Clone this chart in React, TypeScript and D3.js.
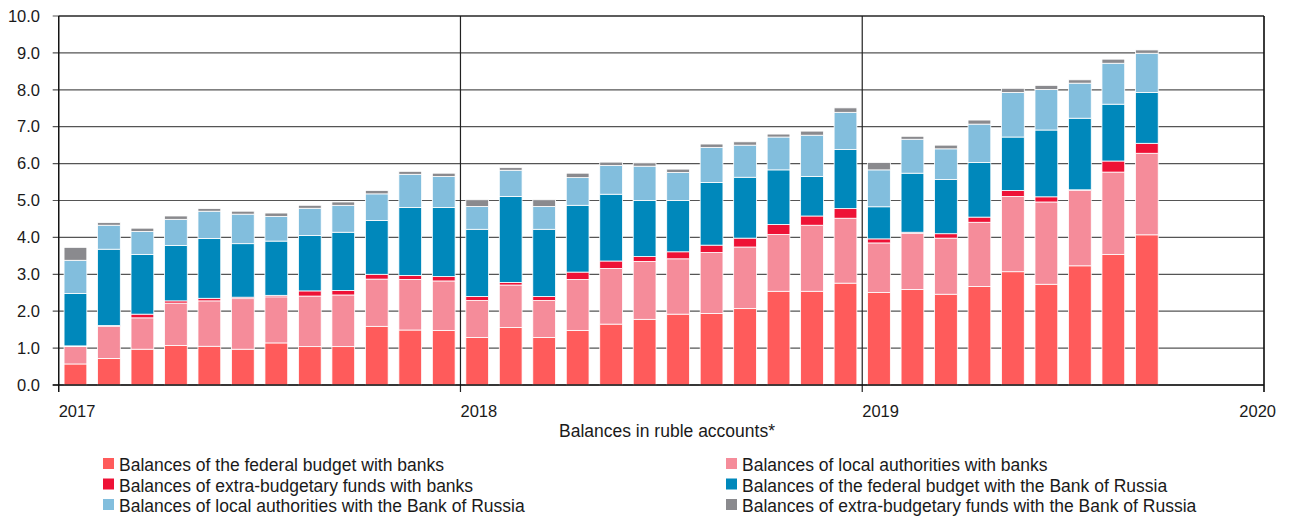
import React from "react";
import * as d3 from "d3";

// months Jan 2017 .. Sep 2019 (33 bars)
const months = d3.timeMonths(new Date(2017, 0, 1), new Date(2019, 9, 1));
const allMonths = d3.timeMonths(new Date(2017, 0, 1), new Date(2020, 0, 1));

const fedBanks = [0.57, 0.72, 0.97, 1.07, 1.05, 0.97, 1.14, 1.04, 1.04, 1.59, 1.49, 1.48,
  1.29, 1.56, 1.29, 1.48, 1.65, 1.78, 1.92, 1.94, 2.07, 2.54, 2.54, 2.76,
  2.51, 2.59, 2.46, 2.67, 3.07, 2.73, 3.23, 3.54, 4.07];
const localBanks = [0.47, 0.87, 0.85, 1.15, 1.23, 1.37, 1.25, 1.37, 1.4, 1.28, 1.37, 1.34,
  1.0, 1.15, 1.0, 1.38, 1.51, 1.57, 1.5, 1.65, 1.67, 1.54, 1.79, 1.76,
  1.34, 1.52, 1.52, 1.74, 2.04, 2.23, 2.04, 2.23, 2.21];
const extraBanks = [0.02, 0.02, 0.1, 0.06, 0.07, 0.04, 0.04, 0.14, 0.12, 0.13, 0.11, 0.12,
  0.11, 0.07, 0.11, 0.2, 0.2, 0.13, 0.19, 0.2, 0.24, 0.27, 0.25, 0.26,
  0.11, 0.03, 0.12, 0.14, 0.16, 0.14, 0.02, 0.3, 0.27];
const fedCbr = [1.42, 2.07, 1.62, 1.5, 1.62, 1.45, 1.47, 1.5, 1.58, 1.46, 1.84, 1.87,
  1.82, 2.33, 1.82, 1.81, 1.81, 1.52, 1.39, 1.7, 1.65, 1.48, 1.07, 1.6,
  0.87, 1.6, 1.47, 1.48, 1.45, 1.81, 1.94, 1.54, 1.38];
const localCbr = [0.9, 0.65, 0.62, 0.71, 0.74, 0.8, 0.67, 0.74, 0.73, 0.72, 0.9, 0.84,
  0.62, 0.71, 0.62, 0.75, 0.78, 0.93, 0.76, 0.95, 0.87, 0.89, 1.12, 1.01,
  1.0, 0.92, 0.83, 1.04, 1.21, 1.1, 0.95, 1.11, 1.06];
const extraCbr = [0.35, 0.07, 0.09, 0.09, 0.07, 0.08, 0.09, 0.08, 0.09, 0.09, 0.08, 0.09,
  0.18, 0.07, 0.18, 0.12, 0.09, 0.09, 0.09, 0.09, 0.09, 0.08, 0.11, 0.12,
  0.2, 0.08, 0.1, 0.11, 0.11, 0.11, 0.09, 0.11, 0.09];

const seriesKeys = ["fedBanks", "localBanks", "extraBanks", "fedCbr", "localCbr", "extraCbr"];
const seriesNames = [
  "Balances of the federal budget with banks",
  "Balances of local authorities with banks",
  "Balances of extra-budgetary funds with banks",
  "Balances of the federal budget with the Bank of Russia",
  "Balances of local authorities with the Bank of Russia",
  "Balances of extra-budgetary funds with the Bank of Russia",
];
const colors = ["#ff5b5b", "#f58c9a", "#ee1236", "#0088bb", "#82bedd", "#8a8a8e"];
const yTicks = [0, 1, 2, 3, 4, 5, 6, 7, 8, 9, 10];
const yearTicks = [2017, 2018, 2019, 2020];
const xTitle = "Balances in ruble accounts*";

const W = 1292;
const H = 520;
const m = { left: 58.7, right: 28, top: 16, bottom: 135 };
const FONT = "'Liberation Sans', Arial, sans-serif";

const App = () => {
  const rows = months.map((d, i) => ({
    month: d,
    fedBanks: fedBanks[i],
    localBanks: localBanks[i],
    extraBanks: extraBanks[i],
    fedCbr: fedCbr[i],
    localCbr: localCbr[i],
    extraCbr: extraCbr[i],
  }));
  const stacked = d3.stack().keys(seriesKeys)(rows as any);

  const x = d3
    .scaleBand<number>()
    .domain(allMonths.map((d) => +d))
    .range([m.left, W - m.right])
    .paddingInner(0.32)
    .paddingOuter(0.16);
  const xYear = d3
    .scaleTime()
    .domain([new Date(2017, 0, 1), new Date(2020, 0, 1)])
    .range([m.left, W - m.right]);
  const y = d3.scaleLinear().domain([0, 10]).range([H - m.bottom, m.top]);

  const fmt = d3.format(".1f");
  const x0 = m.left;
  const x1 = W - m.right;
  const yb = y(0);

  return (
    <svg width={W} height={H} style={{ position: "absolute", left: 0, top: 0 }} fontFamily={FONT}>
      {/* horizontal grid */}
      {yTicks.map((t) => (
        <line key={t} x1={x0 - 6} x2={x1} y1={y(t)} y2={y(t)} stroke="#555" strokeWidth={1.2} />
      ))}
      {/* vertical year lines */}
      {yearTicks.map((yr) => {
        const xx = xYear(new Date(yr, 0, 1));
        return <line key={yr} x1={xx} x2={xx} y1={m.top} y2={yb + 7} stroke="#222" strokeWidth={1.2} />;
      })}
      {/* bars */}
      {stacked.map((s, si) => (
        <g key={s.key} fill={colors[si]}>
          {s.map((d, i) => (
            <rect
              key={i}
              x={x(+months[i])}
              width={x.bandwidth()}
              y={y(d[1])}
              height={Math.max(0, y(d[0]) - y(d[1]))}
              stroke="#fff"
              strokeWidth={0.8}
            />
          ))}
        </g>
      ))}
      {/* frame */}
      <line x1={x0} x2={x1} y1={m.top} y2={m.top} stroke="#111" strokeWidth={1.2} />
      <line x1={x0} x2={x0} y1={m.top} y2={yb + 7} stroke="#111" strokeWidth={1.2} />
      <line x1={x1} x2={x1} y1={m.top} y2={yb + 7} stroke="#111" strokeWidth={1.2} />
      <line x1={x0 - 6} x2={x1} y1={yb} y2={yb} stroke="#111" strokeWidth={1.4} />
      {/* y tick labels */}
      {yTicks.map((t) => (
        <text key={t} x={40} y={y(t)} dy="0.35em" textAnchor="end" fontSize={16.5} fill="#1a1a1a">
          {fmt(t)}
        </text>
      ))}
      {/* year labels */}
      {yearTicks.map((yr, i) => {
        const xx = xYear(new Date(yr, 0, 1));
        const last = i === yearTicks.length - 1;
        return (
          <text key={yr} x={last ? xx + 12 : xx} y={417} textAnchor={last ? "end" : "start"} fontSize={16.5} fill="#1a1a1a">
            {yr}
          </text>
        );
      })}
      <text x={667} y={437} textAnchor="middle" fontSize={17.5} fill="#1a1a1a">
        {xTitle}
      </text>
      {/* legend */}
      {seriesNames.map((name, i) => {
        const col = i % 2;
        const row = Math.floor(i / 2);
        const lx = col === 0 ? 103 : 726;
        const ly = 471 + row * 20.5;
        return (
          <g key={name}>
            <rect x={lx} y={ly - 13} width={11} height={11} fill={colors[i]} />
            <text x={lx + 16} y={ly} fontSize={17.5} fill="#1a1a1a">
              {name}
            </text>
          </g>
        );
      })}
    </svg>
  );
};

export default App;
